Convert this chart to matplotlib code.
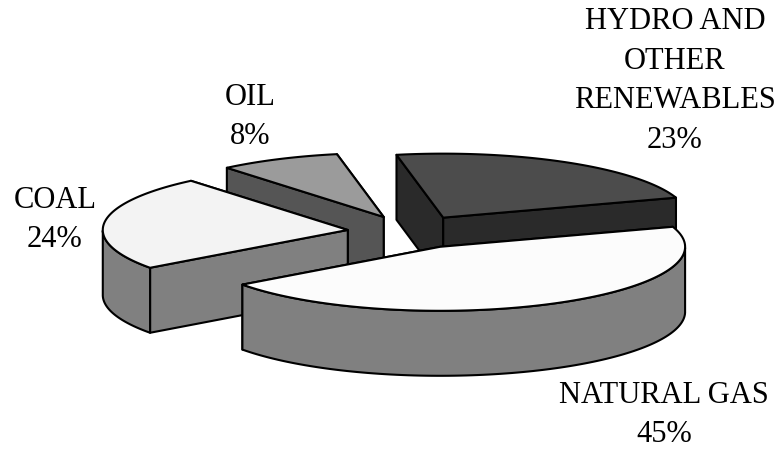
import numpy as np
import matplotlib
matplotlib.use('Agg')
import matplotlib.pyplot as plt
from matplotlib.patches import Polygon

# share of generation by source, in drawing order (back to front)
names = ['OIL', 'HYDRO AND\nOTHER\nRENEWABLES', 'COAL', 'NATURAL GAS']
shares = [8, 23, 24, 45]

# the slices run clockwise in this order from start_angle
pie_order = ['HYDRO AND\nOTHER\nRENEWABLES', 'NATURAL GAS', 'COAL', 'OIL']
start_angle = 101

top_colors = ['#9b9b9b', '#4c4c4c', '#f3f3f3', '#fcfcfc']
side_colors = ['#555555', '#2a2a2a', '#808080', '#808080']
label_pos = [(250, 117), (675, 81), (55, 220), (664, 415)]

cx, cy = 411, 232
rx, ry = 245, 64
depth = 65
explode = 0.26

share_of = dict(zip(names, shares))
angles = {}
a = start_angle
for n in pie_order:
    angles[n] = (a, a - share_of[n] * 3.6)
    a -= share_of[n] * 3.6


def project(deg, ox, oy):
    t = np.radians(deg)
    return ox + rx * np.cos(t), oy - ry * np.sin(t)


def draw_slice(ax, name, top_color, side_color):
    a0, a1 = angles[name]
    mid = (a0 + a1) / 2
    ox, oy = project(mid, cx, cy)
    ox = cx + explode * (ox - cx)
    oy = cy + explode * (oy - cy)

    style = dict(edgecolor='black', linewidth=1.5, joinstyle='round')
    arc = np.linspace(a0, a1, 120)
    xs, ys = project(arc, ox, oy)

    # the two cut faces, the one further back first
    ends = sorted([(ys[0], xs[0]), (ys[-1], xs[-1])])
    for y, x in ends:
        ax.add_patch(Polygon([(ox, oy), (x, y), (x, y + depth), (ox, oy + depth)],
                             facecolor=side_color, **style))

    # outer rim, only the part facing the viewer
    front = np.sin(np.radians(arc)) <= 0
    if front.any():
        rim = list(zip(xs[front], ys[front])) + list(zip(xs[front][::-1], ys[front][::-1] + depth))
        ax.add_patch(Polygon(rim, facecolor=side_color, **style))

    top = [(ox, oy)] + list(zip(xs, ys))
    ax.add_patch(Polygon(top, facecolor=top_color, **style))


fig = plt.figure(figsize=(7.75, 4.5), dpi=100)
ax = fig.add_axes([0, 0, 1, 1])
ax.set_xlim(0, 775)
ax.set_ylim(450, 0)
ax.axis('off')

for n, tc, sc in zip(names, top_colors, side_colors):
    draw_slice(ax, n, tc, sc)

for n, s, (x, y) in zip(names, shares, label_pos):
    ax.text(x, y, f'{n}\n{s}%', ha='center', va='center', multialignment='center',
            family='Liberation Serif', fontsize=22, linespacing=1.47, color='black')

fig.savefig('out.png', dpi=100)
